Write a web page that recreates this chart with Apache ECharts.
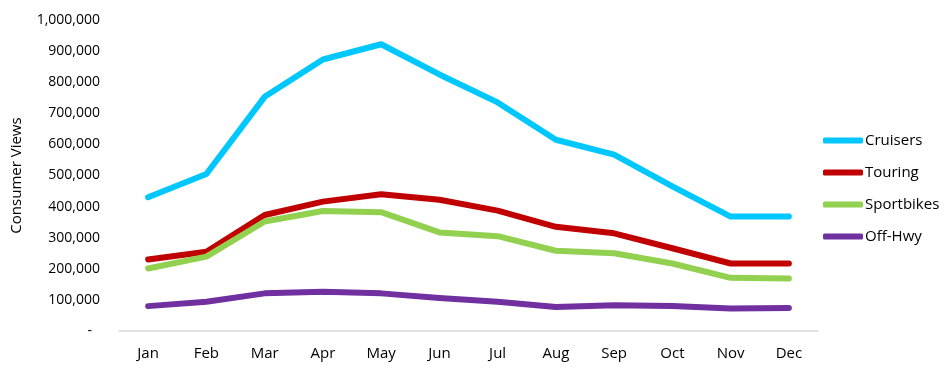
<!DOCTYPE html>
<html>
<head>
<meta charset="utf-8">
<script src="https://cdn.jsdelivr.net/npm/echarts@6/dist/echarts.min.js"></script>
<style>html,body{margin:0;padding:0;background:#fff}#c{width:950px;height:371px}</style>
</head>
<body>
<div id="c"></div>
<script>
const categories = ['Jan','Feb','Mar','Apr','May','Jun','Jul','Aug','Sep','Oct','Nov','Dec'];
const cruisers   = [430000,505000,753000,873000,922000,825000,735000,615000,567000,465000,368000,368000];
const touring    = [230000,255000,373000,416000,440000,422000,387000,335000,314000,266000,217000,217000];
const sportbikes = [201000,239000,352000,386000,382000,317000,305000,258000,250000,217000,171000,169000];
const offHwy     = [80000,94000,121000,126000,121000,106000,94000,77000,83000,80000,72000,74000];
const seriesNames = ['Cruisers','Touring','Sportbikes','Off-Hwy'];
const seriesColors = ['#00C8FF','#C00000','#92D050','#7030A0'];
const seriesData = [cruisers, touring, sportbikes, offHwy];

const font = 'Open Sans';
const chart = echarts.init(document.getElementById('c'));
chart.setOption({
  animation: false,
  textStyle: {fontFamily: font},
  grid: {left: 119, right: 132, top: 20, bottom: 40, containLabel: false},
  legend: {
    orient: 'vertical', left: 818, top: 128,
    itemWidth: 40, itemHeight: 6, itemGap: 17,
    icon: 'roundRect',
    textStyle: {fontFamily: font, fontSize: 15, color: '#000', padding: [0,0,0,-3]},
    data: seriesNames.map((n,i)=>({name:n, itemStyle:{color:seriesColors[i]}}))
  },
  xAxis: {
    type: 'category', data: categories, boundaryGap: true,
    axisLine: {lineStyle: {color: '#D9D9D9', width: 1.5}},
    axisTick: {show: false},
    axisLabel: {color: '#000', fontSize: 15, margin: 15, fontFamily: font}
  },
  yAxis: {
    type: 'value', min: 0, max: 1000000, interval: 100000,
    name: 'Consumer Views', nameLocation: 'middle', nameGap: 95,
    nameTextStyle: {color: '#000', fontSize: 15, fontFamily: font},
    axisLine: {show: false}, axisTick: {show: false}, splitLine: {show: false},
    axisLabel: {
      color: '#000', fontSize: 14, margin: 19, fontFamily: font,
      formatter: v => v === 0 ? '{d|-}' : v.toLocaleString('en-US'),
      rich: {d: {padding: [0, 8, 0, 0], color: '#000', fontSize: 14}}
    }
  },
  series: seriesData.map((d,i)=>({
    name: seriesNames[i], type: 'line', data: d, showSymbol: false, symbol: 'none',
    color: seriesColors[i],
    lineStyle: {width: 6, color: seriesColors[i], cap: 'round', join: 'round'}
  }))
});
</script>
</body>
</html>
